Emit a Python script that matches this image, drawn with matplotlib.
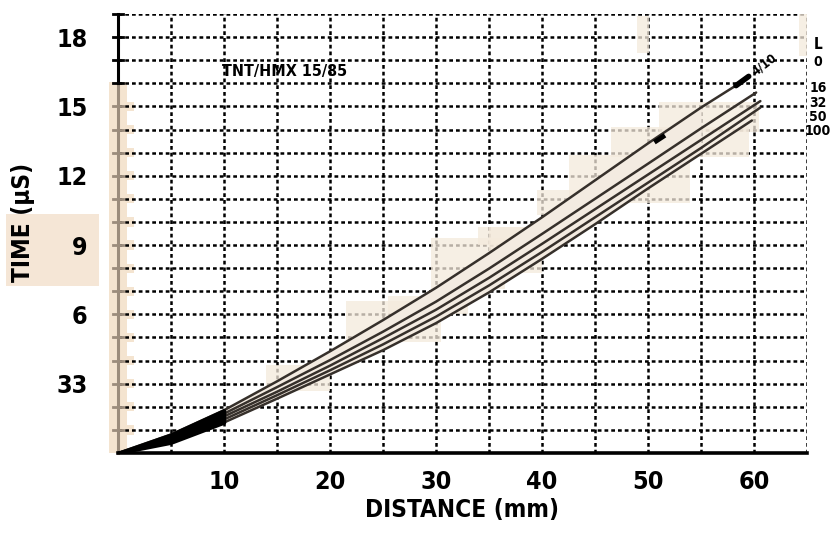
import numpy as np
import matplotlib
matplotlib.use("Agg")
import matplotlib.pyplot as plt
from matplotlib.patches import Rectangle
from matplotlib import font_manager

# pick a condensed bold face if one is installed
cond = None
for f in font_manager.fontManager.ttflist:
    if ('Narrow' in f.name or 'Condensed' in f.name or f.stretch in ('condensed', 'semi-condensed')) \
            and f.weight in ('bold', 700):
        cond = f
        break
if cond is not None:
    FONT = dict(family=[cond.name, 'DejaVu Sans'], stretch=cond.stretch)
else:
    FONT = dict(family=['Liberation Sans', 'DejaVu Sans'])
CONDENSED = cond is not None

# ---------------- data ----------------
distance = [0, 5, 10, 15, 20, 25, 30, 35, 40, 45, 50, 55]
time_L0 = [0, 0.80, 1.85, 3.10, 4.40, 5.75, 7.15, 8.65, 10.20, 11.80, 13.40, 14.95]
time_L16 = [0, 0.70, 1.70, 2.85, 4.02, 5.25, 6.55, 7.98, 9.48, 11.00, 12.52, 14.05]
time_L32 = [0, 0.62, 1.58, 2.65, 3.78, 4.97, 6.20, 7.58, 9.05, 10.55, 12.05, 13.55]
time_L50 = [0, 0.55, 1.45, 2.50, 3.58, 4.70, 5.90, 7.25, 8.70, 10.20, 11.70, 13.20]
time_L100 = [0, 0.45, 1.32, 2.35, 3.40, 4.45, 5.62, 6.95, 8.40, 9.90, 11.45, 12.95]
end_distance = [58.8, 60.2, 60.6, 60.6, 59.8]
end_time = [16.05, 15.60, 15.23, 14.95, 14.39]
series_names = ['0', '16', '32', '50', '100']

x_ticks = [10, 20, 30, 40, 50, 60]
x_tick_labels = ['10', '20', '30', '40', '50', '60']
y_ticks = [18, 15, 12, 9, 6, 3]
y_tick_labels = ['18', '15', '12', '9', '6', '33']
title_text = 'TNT/HMX 15/85'
xlabel_text = 'DISTANCE (mm)'
ylabel_text = 'TIME (\u00b5S)'

# ---------------- figure ----------------
W, H = 836, 539
fig = plt.figure(figsize=(W / 100, H / 100), dpi=100)
fig.patch.set_facecolor('white')
ax = fig.add_axes([118 / W, 86 / H, 689 / W, 439 / H])
ax.set_zorder(2)
ax.patch.set_alpha(0)
ax.set_xlim(0, 65)
ax.set_ylim(0, 19)
for s in ax.spines.values():
    s.set_visible(False)

BEIGE = '#f4eadc'
LINE = '#36302b'
tick_fs = 18 if CONDENSED else 16.5
lab_fs = 17.5 if CONDENSED else 16

# dotted grid
grid_kw = dict(color='black', lw=1.8, linestyle=(0, (1.5, 1.2)), zorder=1)
for xv in np.arange(5, 66, 5):
    ax.plot([xv, xv], [0, 19], **grid_kw)
for yv in np.arange(1, 20, 1):
    ax.plot([0, 65], [yv, yv], **grid_kw)

# highlighter patches (scan artefacts)
patches = [
    (14.0, 2.7, 6.0, 1.1), (21.5, 4.8, 9.0, 1.8), (29.5, 7.1, 7.0, 2.2),
    (35.0, 7.8, 5.0, 2.0), (39.5, 10.3, 7.0, 1.1), (42.5, 10.8, 11.5, 2.1),
    (46.5, 12.8, 13.0, 1.3), (51.0, 13.9, 9.5, 1.3), (49.0, 17.3, 1.1, 1.6),
    (64.2, 17.2, 0.8, 1.8), (25.5, 6.0, 7.5, 0.8), (34.0, 9.0, 6.0, 0.8),
]
for (px, py, pw, ph) in patches:
    ax.add_patch(Rectangle((px, py), pw, ph, facecolor=BEIGE, edgecolor='none',
                           alpha=0.75, zorder=2))

x = np.array(distance, dtype=float)
curves = [time_L0, time_L16, time_L32, time_L50, time_L100]
full_x = [np.append(x, ex) for ex in end_distance]
full_y = [np.append(np.array(c, dtype=float), et) for c, et in zip(curves, end_time)]

# beige band between outer curves
xb = np.linspace(10, 55, 50)
ax.fill_between(xb, np.interp(xb, x, time_L100), np.interp(xb, x, time_L0),
                color='#f3ebe1', zorder=2.5, lw=0)

for fx, fy in zip(full_x, full_y):
    ax.plot(fx, fy, color=LINE, lw=1.8, zorder=4, solid_capstyle='round',
            solid_joinstyle='round')

# merged black band near the origin
xs = np.linspace(0, 10, 30)
ax.fill_between(xs, np.interp(xs, x, time_L100), np.interp(xs, x, time_L0),
                color='black', zorder=5, lw=2.5, edgecolor='black')

# marks near the top curve
ax.plot([50.6, 51.6], [13.45, 13.75], color='black', lw=3.5, zorder=6,
        solid_capstyle='butt')
ax.plot([58.3, 59.5], [15.9, 16.3], color='black', lw=4, zorder=6,
        solid_capstyle='round')
ax.text(61.0, 16.8, '4/10', rotation=38, fontsize=9, ha='center', va='center',
        zorder=6, fontweight='bold', **FONT)

# axes lines
ax.plot([0, 65], [0, 0], color='black', lw=2.6, zorder=6, clip_on=False)
ax.add_patch(Rectangle((-0.85, 0), 1.7, 16.05, facecolor='#f4e4d0', edgecolor='none',
                       zorder=0.5, clip_on=False))
for yv in range(1, 16):
    ax.add_patch(Rectangle((-0.85, yv - 0.2), 2.4, 0.4, facecolor='#f4e4d0',
                           edgecolor='none', zorder=0.5, clip_on=False))
ax.plot([0, 0], [0, 16], color='#9b8c7c', lw=2.2, zorder=3, clip_on=False)
ax.plot([0, 0], [16, 19], color='black', lw=2.2, zorder=3, clip_on=False)
for yv in range(1, 20):
    c = 'black' if yv >= 16 else '#9b8c7c'
    ax.plot([-0.45, 0.45], [yv, yv], color=c, lw=2.0, zorder=3, clip_on=False)

# ticks / labels
ax.set_xticks(x_ticks)
ax.set_xticklabels(x_tick_labels, fontsize=tick_fs, fontweight='bold', **FONT)
ax.set_yticks(y_ticks)
ax.set_yticklabels(y_tick_labels, fontsize=tick_fs, fontweight='bold', **FONT)
ax.tick_params(axis='x', length=0, pad=12)
ax.tick_params(axis='y', length=0, pad=22)

fig.text(462 / W, 1 - 510 / H, xlabel_text, fontsize=lab_fs, fontweight='bold',
         ha='center', va='center', **FONT)
fig.patches.append(Rectangle((6 / W, 1 - 286 / H), 93 / W, 72 / H,
                             transform=fig.transFigure, facecolor='#f5e6d6',
                             edgecolor='none', zorder=0))
fig.text(23 / W, 1 - 222 / H, ylabel_text, fontsize=lab_fs, fontweight='bold',
         rotation=90, ha='center', va='center', **FONT)

ax.text(15.7, 16.5, title_text, fontsize=11.5 if CONDENSED else 10.5, fontweight='bold',
        ha='center', va='center', zorder=6, **FONT)

# legend text
ax.text(66.05, 17.66, 'L', fontsize=11, fontweight='bold', ha='center',
        va='center', clip_on=False, **FONT)
legend_y = [16.93, 15.8, 15.15, 14.55, 13.94]
for name, ly in zip(series_names, legend_y):
    ax.text(66.05, ly, name, fontsize=10, fontweight='bold', ha='center',
            va='center', clip_on=False, **FONT)

fig.savefig('out.png', dpi=100, facecolor='white')
